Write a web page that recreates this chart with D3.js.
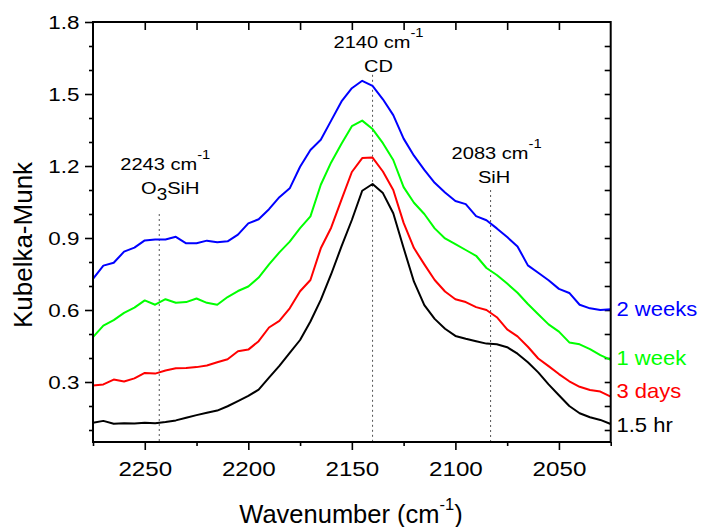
<!DOCTYPE html>
<html>
<head>
<meta charset="utf-8">
<script src="https://cdn.jsdelivr.net/npm/d3@7"></script>
<style>
  body { margin: 0; background: #fff; }
  svg { display: block; font-family: "Liberation Sans", Arial, sans-serif; }
</style>
</head>
<body>
<script>
// Wavenumber grid (cm-1), high to low as on the axis
const wavenumber = [2275, 2270, 2265, 2260, 2255, 2250, 2245, 2240, 2235, 2230,
  2225, 2220, 2215, 2210, 2205, 2200, 2195, 2190, 2185, 2180,
  2175, 2170, 2165, 2160, 2155, 2150, 2145, 2140, 2135, 2130,
  2125, 2120, 2115, 2110, 2105, 2100, 2095, 2090, 2085, 2080,
  2075, 2070, 2065, 2060, 2055, 2050, 2045, 2040, 2035, 2030, 2025];

// Kubelka-Munk values
const km15hr = [0.130, 0.138, 0.126, 0.128, 0.127, 0.130, 0.128, 0.133, 0.140, 0.151,
  0.162, 0.172, 0.181, 0.199, 0.220, 0.242, 0.268, 0.318, 0.367, 0.421,
  0.475, 0.552, 0.642, 0.749, 0.865, 0.975, 1.097, 1.125, 1.087, 1.003,
  0.858, 0.718, 0.620, 0.563, 0.522, 0.492, 0.480, 0.470, 0.460, 0.457,
  0.445, 0.418, 0.382, 0.340, 0.290, 0.245, 0.200, 0.170, 0.153, 0.142, 0.125];

const km3days = [0.285, 0.290, 0.310, 0.302, 0.315, 0.338, 0.335, 0.348, 0.357, 0.358,
  0.362, 0.369, 0.382, 0.395, 0.428, 0.435, 0.470, 0.527, 0.555, 0.607,
  0.678, 0.725, 0.857, 0.943, 1.060, 1.175, 1.233, 1.235, 1.177, 1.100,
  0.963, 0.858, 0.790, 0.725, 0.677, 0.645, 0.633, 0.612, 0.600, 0.570,
  0.519, 0.490, 0.447, 0.398, 0.366, 0.333, 0.303, 0.280, 0.267, 0.260, 0.239];

const km1week = [0.487, 0.535, 0.558, 0.588, 0.610, 0.640, 0.622, 0.645, 0.630, 0.633,
  0.648, 0.630, 0.622, 0.654, 0.679, 0.698, 0.735, 0.790, 0.840, 0.885,
  0.941, 0.990, 1.122, 1.215, 1.293, 1.366, 1.389, 1.354, 1.295, 1.225,
  1.112, 1.047, 1.000, 0.940, 0.898, 0.874, 0.850, 0.826, 0.775, 0.746,
  0.710, 0.672, 0.625, 0.582, 0.540, 0.510, 0.465, 0.457, 0.437, 0.412, 0.392];

const km2weeks = [0.730, 0.785, 0.797, 0.843, 0.860, 0.890, 0.894, 0.894, 0.905, 0.878,
  0.878, 0.889, 0.882, 0.886, 0.914, 0.961, 0.978, 1.020, 1.070, 1.107,
  1.197, 1.267, 1.309, 1.389, 1.469, 1.524, 1.555, 1.534, 1.478, 1.412,
  1.314, 1.243, 1.184, 1.130, 1.090, 1.054, 1.041, 0.991, 0.974, 0.940,
  0.904, 0.865, 0.786, 0.755, 0.724, 0.688, 0.671, 0.622, 0.607, 0.600, 0.603];

const seriesNames = ["1.5 hr", "3 days", "1 week", "2 weeks"];
const seriesValues = [km15hr, km3days, km1week, km2weeks];
const seriesColors = ["#000000", "#ff0000", "#00ff00", "#0000ff"];

// Peak markers: position, assignment, top of the dotted line (KM units)
const peakWn = [2243, 2140, 2083];
const peakName = ["O3SiH", "CD", "SiH"];
const peakTop = [1.0, 1.58, 1.10];

const yMajor = [0.3, 0.6, 0.9, 1.2, 1.5, 1.8];
const xMajor = [2250, 2200, 2150, 2100, 2050];

// ---- layout ----
const W = 703, H = 527;
const plotL = 93, plotR = 610.7, plotT = 22, plotB = 442;

const x = d3.scaleLinear().domain([2275, 2025]).range([plotL, plotR]);
const y = d3.scaleLinear().domain([0.05, 1.8]).range([plotB, plotT]);

const svg = d3.select("body").append("svg").attr("width", W).attr("height", H);

// minor tick positions
const yMinor = d3.range(1, 18).filter(i => i % 3 !== 0).map(i => i / 10);
const yAll = d3.range(1, 18).map(i => i / 10);
const xMinor = [2275, 2225, 2175, 2125, 2075, 2025];
const xTop = [2250, 2225, 2200, 2175, 2150, 2125, 2100, 2075, 2050];

function styleAxis(g) {
  g.select(".domain").remove();
  g.selectAll(".tick line").attr("stroke", "#000").attr("stroke-width", 1.6);
}

// left axis (outward ticks)
svg.append("g").attr("transform", `translate(${plotL},0)`)
  .call(d3.axisLeft(y).tickValues(yMinor).tickSize(4).tickFormat(""))
  .call(styleAxis);
const gl = svg.append("g").attr("transform", `translate(${plotL},0)`)
  .call(d3.axisLeft(y).tickValues(yMajor).tickSize(8).tickFormat(d3.format(".1f")))
  .call(styleAxis);
gl.selectAll(".tick text")
  .attr("font-family", "Liberation Sans, Arial, sans-serif")
  .attr("font-size", 19).attr("fill", "#000")
  .attr("x", -13.5 / 1.18).attr("dy", "0.35em")
  .attr("transform", "scale(1.18,1)");

// right axis (inward ticks, no labels)
svg.append("g").attr("transform", `translate(${plotR},0)`)
  .call(d3.axisRight(y).tickValues(yAll).tickSize(-6).tickFormat(""))
  .call(styleAxis);

// bottom axis (outward ticks)
svg.append("g").attr("transform", `translate(0,${plotB})`)
  .call(d3.axisBottom(x).tickValues(xMinor).tickSize(4).tickFormat(""))
  .call(styleAxis);
const gb = svg.append("g").attr("transform", `translate(0,${plotB})`)
  .call(d3.axisBottom(x).tickValues(xMajor).tickSize(8).tickFormat(d3.format("d")))
  .call(styleAxis);
gb.selectAll(".tick text")
  .attr("font-family", "Liberation Sans, Arial, sans-serif")
  .attr("font-size", 20.5).attr("fill", "#000")
  .attr("y", 34).attr("dy", 0)
  .attr("transform", "scale(1.18,1)");

// top axis (inward ticks)
svg.append("g").attr("transform", `translate(0,${plotT})`)
  .call(d3.axisTop(x).tickValues(xTop).tickSize(-8).tickFormat(""))
  .call(styleAxis);

// dotted peak lines
svg.append("g").selectAll("line")
  .data(peakWn)
  .join("line")
  .attr("x1", d => x(d)).attr("x2", d => x(d))
  .attr("y1", (d, i) => y(peakTop[i])).attr("y2", plotB)
  .attr("stroke", "#555").attr("stroke-width", 1)
  .attr("stroke-dasharray", "2,3");

// spectra
const line = d3.line()
  .x((d, i) => x(wavenumber[i]))
  .y(d => y(d));

svg.append("g").selectAll("path")
  .data(seriesValues)
  .join("path")
  .attr("d", line)
  .attr("fill", "none")
  .attr("stroke", (d, i) => seriesColors[i])
  .attr("stroke-width", 2)
  .attr("stroke-linejoin", "round");

// frame
svg.append("rect")
  .attr("x", plotL).attr("y", plotT)
  .attr("width", plotR - plotL).attr("height", plotB - plotT)
  .attr("fill", "none").attr("stroke", "#000").attr("stroke-width", 2);

// series labels at the right end of each curve
const labelBase = [432, 398, 365, 316];
seriesNames.forEach((name, i) => {
  svg.append("text")
    .attr("transform", `translate(616.5,${labelBase[i]}) scale(1.1,1)`)
    .attr("font-size", 20)
    .attr("fill", seriesColors[i])
    .text(name);
});

// peak annotations
const nameBase = [194, 72, 183];
const nameShift = [11, 6, 3.5];
peakWn.forEach((wn, i) => {
  const lx = x(wn);
  const t1 = svg.append("text")
    .attr("transform", `translate(${lx - 39},${nameBase[i] - 24}) scale(1.18,1)`)
    .attr("font-size", 17);
  t1.append("tspan").text(`${wn} cm`);
  t1.append("tspan").attr("font-size", 12.5).attr("dy", -11).text("-1");

  const t2 = svg.append("text")
    .attr("transform", `translate(${lx + nameShift[i]},${nameBase[i]}) scale(1.18,1)`)
    .attr("font-size", 17)
    .attr("text-anchor", "middle");
  const m = peakName[i].match(/^([A-Z]+)(\d)(.*)$/);
  if (m) {
    t2.append("tspan").text(m[1]);
    t2.append("tspan").attr("font-size", 16).attr("dy", 6).text(m[2]);
    t2.append("tspan").attr("dy", -6).text(m[3]);
  } else {
    t2.text(peakName[i]);
  }
});

// axis titles
svg.append("text")
  .attr("transform", `translate(32,245) rotate(-90)`)
  .attr("text-anchor", "middle")
  .attr("font-size", 26)
  .text("Kubelka-Munk");

const xt = svg.append("text")
  .attr("x", 351).attr("y", 523)
  .attr("text-anchor", "middle")
  .attr("font-size", 25.5);
xt.append("tspan").text("Wavenumber (cm");
xt.append("tspan").attr("font-size", 16.5).attr("dy", -13).text("-1");
xt.append("tspan").attr("dy", 13).text(")");
</script>
</body>
</html>
